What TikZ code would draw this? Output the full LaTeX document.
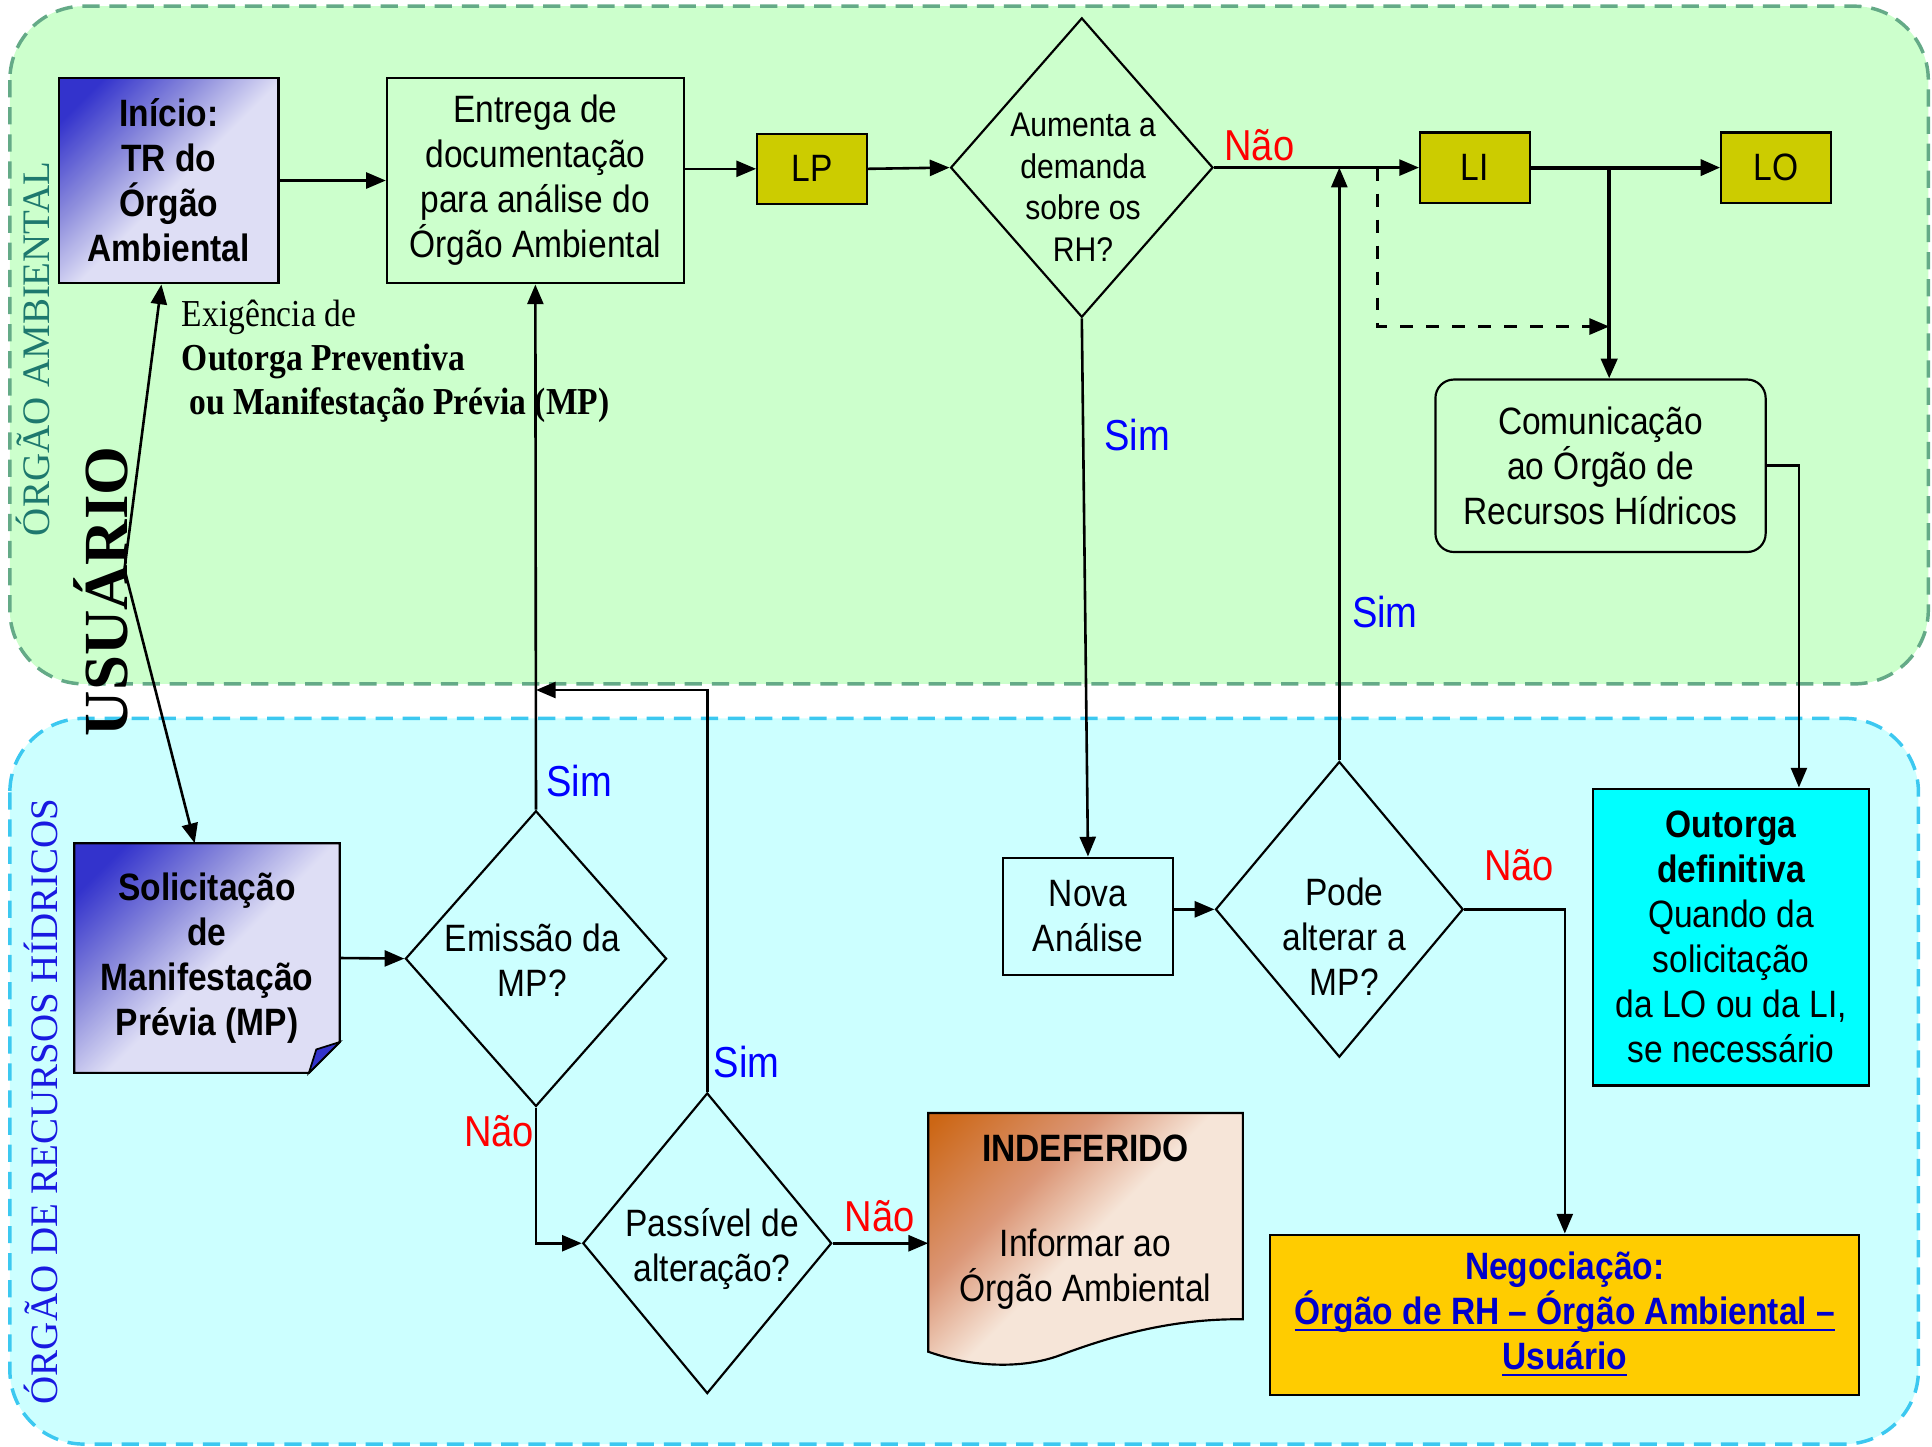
\documentclass[tikz,border=0pt]{standalone}
\usepackage{fontspec}
\setmainfont{Liberation Sans}[FakeStretch=0.88]
\newfontfamily\serifnote{Liberation Serif}[FakeStretch=0.88]
\newfontfamily\seriflane{Liberation Serif}
\usetikzlibrary{shapes.geometric, arrows.meta, backgrounds}

\definecolor{laneGreen}{RGB}{204,255,204}
\definecolor{laneGreenLine}{RGB}{100,170,135}
\definecolor{laneCyan}{RGB}{204,255,255}
\definecolor{laneCyanLine}{RGB}{60,200,240}
\definecolor{licYellow}{RGB}{204,204,0}
\definecolor{outCyan}{RGB}{0,255,255}
\definecolor{negGold}{RGB}{255,204,0}
\definecolor{simBlue}{RGB}{0,0,255}
\definecolor{naoRed}{RGB}{255,0,0}
\definecolor{oaTeal}{RGB}{30,120,110}
\definecolor{rhBlue}{RGB}{25,25,225}
\definecolor{negBlue}{RGB}{0,0,204}
\definecolor{startDark}{RGB}{51,51,204}
\definecolor{startMid}{RGB}{140,140,220}
\definecolor{startLight}{RGB}{222,222,245}
\definecolor{indDark}{RGB}{204,102,20}
\definecolor{indMid}{RGB}{219,150,118}
\definecolor{indLight}{RGB}{246,229,216}

\pgfdeclareverticalshading{startshade}{100bp}{color(0bp)=(startLight); color(48bp)=(startLight); color(62bp)=(startMid); color(78bp)=(startDark); color(100bp)=(startDark)}
\pgfdeclareverticalshading{indshade}{100bp}{color(0bp)=(indLight); color(50bp)=(indLight); color(64bp)=(indMid); color(84bp)=(indDark); color(100bp)=(indDark)}

% sublinhado rente a linha de base
\newcommand{\negline}[1]{\underline{\smash{#1}}}

\begin{document}
\begin{tikzpicture}[x=0.1mm, y=-0.1mm,
    >={Triangle[length=1.6mm,width=1.3mm]},
    every node/.style={font=\fontsize{8.8}{10.4}\selectfont},
    box/.style={rectangle, draw=black, line width=0.5pt, align=center, inner sep=0pt},
    lic/.style={box, fill=licYellow, minimum width=8.9mm, minimum height=5.7mm},
    decision/.style={diamond, draw=black, line width=0.5pt, inner sep=0pt},
    dtext/.style={align=center, inner sep=0pt},
    sim/.style={text=simBlue, font=\fontsize{10}{12}\selectfont, inner sep=0pt},
    nao/.style={text=naoRed, font=\fontsize{10}{12}\selectfont, inner sep=0pt},
    flow/.style={->, line width=0.6pt},
    lane/.style={line width=0.8pt, dash pattern=on 1.4mm off 0.8mm, rounded corners=6mm}
]
    \useasboundingbox (0,0) rectangle (1568,1173.7);

    % raias
    \begin{pgfonlayer}{background}
        \draw[lane, draw=laneGreenLine, fill=laneGreen] (8,5) rectangle (1565,555);
        \draw[lane, draw=laneCyanLine, fill=laneCyan] (8,583) rectangle (1557,1172);
    \end{pgfonlayer}

    \node[rotate=90, inner sep=0pt, text=oaTeal, font=\seriflane\fontsize{9}{10}\selectfont] (laneOA) at (27,283) {ÓRGÃO AMBIENTAL};
    \node[rotate=90, inner sep=0pt, font=\seriflane\bfseries\fontsize{14.5}{16}\selectfont] (laneUS) at (82,480) {USUÁRIO};
    \node[rotate=90, inner sep=0pt, text=rhBlue, font=\seriflane\fontsize{9}{10}\selectfont] (laneRH) at (33,894) {ÓRGÃO DE RECURSOS HÍDRICOS};

    % orgao ambiental
    \node[box, shade, shading=startshade, shading angle=45, minimum width=17.8mm, minimum height=16.7mm, font=\bfseries\fontsize{8.8}{10.4}\selectfont] (inicio) at (137,146.5) {Início:\\TR do\\Órgão\\Ambiental};
    \node[box, minimum width=24.1mm, minimum height=16.7mm] (entrega) at (434.5,146.5) {Entrega de\\documentação\\para análise do\\Órgão Ambiental};
    \node[lic] (LP) at (659,137) {LP};
    \node[decision, minimum width=21.3mm, minimum height=24.3mm] (dRH) at (878,136) {};
    \node[dtext, font=\fontsize{7.9}{9.6}\selectfont] (tRH) at (879,152) {Aumenta a\\demanda\\sobre os\\RH?};
    \node[lic] (LI) at (1197,136) {LI};
    \node[lic] (LO) at (1441.5,136) {LO};
    \node[box, rounded corners=1.5mm, minimum width=26.8mm, minimum height=14mm] (comunic) at (1299,378) {Comunicação\\ao Órgão de\\Recursos Hídricos};

    \node[anchor=west, align=left, inner sep=0pt, font=\serifnote\fontsize{8.8}{10.2}\selectfont] (exig) at (147,293) {Exigência de\\\textbf{Outorga Preventiva}\\\hspace*{0.6mm}\textbf{ou Manifestação Prévia (MP)}};

    % orgao de recursos hidricos
    \node[align=center, inner sep=0pt, minimum width=21.4mm, minimum height=18.5mm, font=\bfseries\fontsize{8.8}{10.4}\selectfont] (solic) at (168,777.5) {Solicitação\\de\\Manifestação\\Prévia (MP)};
    \node[decision, minimum width=21.2mm, minimum height=24mm] (dMP) at (435,778) {};
    \node[dtext] (tMP) at (432,779) {Emissão da\\MP?};
    \node[decision, minimum width=20.2mm, minimum height=24.4mm] (dAlt) at (574,1009) {};
    \node[dtext] (tAlt) at (578,1014) {Passível de\\alteração?};
    \node[inner sep=0pt, minimum width=25.4mm, minimum height=16.6mm] (indef) at (881,987) {};
    \node[dtext] (tInd) at (881,992) {\textbf{INDEFERIDO}\\[11.5pt]Informar ao\\Órgão Ambiental};
    \node[box, minimum width=13.8mm, minimum height=9.5mm] (nova) at (883,743.5) {Nova\\Análise};
    \node[decision, minimum width=20.1mm, minimum height=24mm] (dPode) at (1087,738) {};
    \node[dtext] (tPode) at (1091,760) {Pode\\alterar a\\MP?};
    \node[box, fill=outCyan, minimum width=22.4mm, minimum height=24.1mm] (outorga) at (1405,760.5) {\textbf{Outorga}\\\textbf{definitiva}\\Quando da\\solicitação\\da LO ou da LI,\\se necessário};
    \node[box, fill=negGold, minimum width=47.8mm, minimum height=13mm, text=negBlue, font=\bfseries\fontsize{8.8}{10.4}\selectfont] (negoc) at (1270,1067) {Negociação:\\\negline{Órgão de RH – Órgão Ambiental –}\\\negline{Usuário}};

    % formas desenhadas atras do texto
    \begin{pgfonlayer}{background}
        \shade[shading=startshade, shading angle=45, draw=black, line width=0.5pt] (solic.north west) -- (solic.north east) -- ([yshift=2.5mm]solic.south east) -- ([xshift=-2.5mm]solic.south east) -- (solic.south west) -- cycle;
        \filldraw[fill=startDark, draw=black, line width=0.4pt] ([yshift=2.5mm]solic.south east) -- ([xshift=-1.9mm,yshift=1.9mm]solic.south east) -- ([xshift=-2.5mm]solic.south east) -- cycle;
        \shade[shading=indshade, shading angle=45, draw=black, line width=0.5pt] (indef.north west) -- (indef.north east) -- (indef.south east) .. controls (950,1070) and (900,1085) .. (860,1100) .. controls (830,1111) and (790,1110) .. (indef.south west |- 0,1097) -- cycle;
    \end{pgfonlayer}

    % ligacoes
    \draw[flow] (inicio.east) -- (entrega.west);
    \draw[flow] (entrega.east |- LP.west) -- (LP.west);
    \draw[flow] (LP.east) -- (dRH.west);
    \draw[flow] (dRH.east) -- (LI.west);
    \node[nao] (n1) at (1022,118) {Não};
    \draw[flow, line width=0.9pt] (LI.east) -- (LO.west);
    \coordinate (jCom) at (1306,136);
    \draw[flow, line width=0.9pt] (jCom) -- (jCom |- comunic.north);
    \coordinate (jDash) at (1118,136);
    \coordinate (dashEnd) at (1306,265);
    \draw[flow, dashed] (jDash) |- (dashEnd);
    \draw[flow] (comunic.east) -| ([xshift=5.5mm]outorga.north);

    \draw[flow] (dRH.south) -- (nova.north);
    \node[sim] (s1) at (923,353) {Sim};
    \draw[flow] (nova.east |- dPode.west) -- (dPode.west);
    \draw[flow] (dPode.north) -- (dPode.north |- dRH.east);
    \node[sim] (s2) at (1124,497) {Sim};
    \draw[flow] (dPode.east) -| (negoc.north);
    \node[nao] (n2) at (1233,702) {Não};

    \draw[flow] (solic.east) -- (dMP.west);
    \draw[flow] (dMP.north) -- (entrega.south);
    \node[sim] (s3) at (470,634) {Sim};
    \draw[flow] (dMP.south) |- (dAlt.west);
    \node[nao] (n3) at (405,918) {Não};
    \coordinate (jBack) at (435,560);
    \draw[flow] (dAlt.north) |- (jBack);
    \node[sim] (s4) at (606,862) {Sim};
    \draw[flow] (dAlt.east) -- (dAlt.east -| indef.west);
    \node[nao] (n4) at (714,987) {Não};

    \coordinate (kink) at (101,462);
    \draw[flow, <->] ([xshift=-0.6mm]inicio.south) -- (kink) -- ([xshift=-1mm]solic.north);
\end{tikzpicture}
\end{document}
